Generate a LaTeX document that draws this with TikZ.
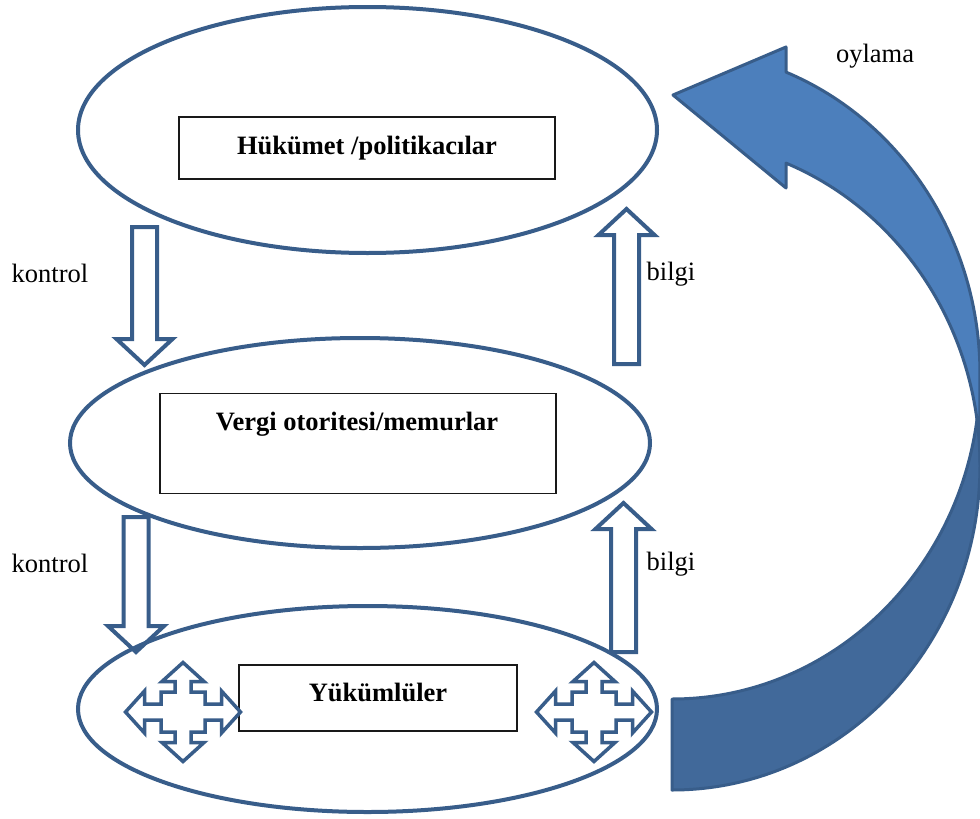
\documentclass[tikz,border=0pt]{standalone}
\usepackage{fontspec}
\setmainfont{Liberation Serif}
\usetikzlibrary{shapes.geometric,calc}

\definecolor{lineblue}{RGB}{56,93,138}
\definecolor{frontblue}{RGB}{76,127,188}
\definecolor{backblue}{RGB}{65,105,154}

% hollow block arrow: name, x, tail y, tip y
\newcommand{\hollowarrow}[4]{%
  \pgfmathsetmacro\hbase{#4-26*sign(#4-#3)}%
  \coordinate (#1-tail) at (#2,#3);
  \coordinate (#1-tip) at (#2,#4);
  \draw[blockarrow] ({#2-12.5},#3) -- ({#2+12.5},#3) -- ({#2+12.5},\hbase)
    -- ({#2+28},\hbase) -- (#1-tip) -- ({#2-28},\hbase) -- ({#2-12.5},\hbase) -- cycle;
}

\begin{document}
\begin{tikzpicture}[x=1pt,y=-1pt,
  oval/.style={ellipse, draw=lineblue, line width=4pt, inner sep=0pt},
  labelbox/.style={rectangle, draw=black!90, line width=1.2pt, fill=white, inner sep=0pt},
  boxtext/.style={font=\bfseries\fontsize{26.5}{30}\selectfont, inner sep=0pt, anchor=base},
  plaintext/.style={font=\fontsize{26.5}{30}\selectfont, inner sep=0pt, anchor=base},
  blockarrow/.style={draw=lineblue, line width=4pt, fill=white, line join=miter},
  quadline/.style={draw=lineblue, line width=3.5pt, line join=miter},
  frontband/.style={draw=lineblue, line width=3pt, fill=frontblue, line join=round},
  backband/.style={draw=lineblue, line width=3pt, fill=backblue, line join=round},
  quadarrow/.pic={
    \draw[quadline] (-57.5,0) -- (-38.5,-21) -- (-38.5,-8) -- (-22,-8) -- (-22,-20)
      -- (-8,-20) -- (-8,-30.5) -- (-21,-30.5) -- (0,-49.5)
      -- (21,-30.5) -- (8,-30.5) -- (8,-20) -- (22,-20) -- (22,-8)
      -- (38.5,-8) -- (38.5,-21) -- (57.5,0)
      -- (38.5,21) -- (38.5,8) -- (22,8) -- (22,20) -- (8,20)
      -- (8,30.5) -- (21,30.5) -- (0,49.5)
      -- (-21,30.5) -- (-8,30.5) -- (-8,20) -- (-22,20) -- (-22,8)
      -- (-38.5,8) -- (-38.5,21) -- cycle;
  }]

\useasboundingbox (0,0) rectangle (980,819);
\fill[white] (0,0) rectangle (980,819);

% block arrows between the levels
\hollowarrow{ctrlA}{144.5}{227}{365}
\hollowarrow{infoA}{626.5}{364}{209}
\hollowarrow{ctrlB}{136}{517}{652}
\hollowarrow{infoB}{623.5}{652}{503}

% the three levels
\node[oval, minimum width=579pt, minimum height=246pt] (gov) at (367.5,130) {};
\node[oval, minimum width=580pt, minimum height=210pt] (tax) at (360,443) {};
\node[oval, minimum width=579pt, minimum height=206pt] (payer) at (367.5,709) {};

\node[labelbox, minimum width=376pt, minimum height=62pt] (govbox) at (367,148) {};
\node[boxtext] (govtext) at (367,154) {Hükümet /politikacılar};

\node[labelbox, minimum width=396pt, minimum height=100pt] (taxbox) at (358,443.5) {};
\node[boxtext] (taxtext) at (357,430) {Vergi otoritesi/memurlar};

\node[labelbox, minimum width=278pt, minimum height=66pt] (payerbox) at (378,698) {};
\node[boxtext] (payertext) at (378,701) {Yükümlüler};

% four-way arrows among taxpayers
\pic (quadL) at (183,712) {quadarrow};
\pic (quadR) at (594,712) {quadarrow};

% side labels
\node[plaintext] (ctrlAlabel) at (50,282) {kontrol};
\node[plaintext] (ctrlBlabel) at (50,572) {kontrol};
\node[plaintext] (infoAlabel) at (671,280) {bilgi};
\node[plaintext] (infoBlabel) at (671,570) {bilgi};
\node[plaintext] (votelabel) at (875,62) {oylama};

% curved voting arrow: back band (tail) first, then front band with head
\coordinate (backc) at (672,465);
\coordinate (frontc) at (672,374);
\draw[backband] (672,790) arc[start angle=90, end angle=0, x radius=308, y radius=325]
  -- (980,374) arc[start angle=0, end angle=90, x radius=308, y radius=325] -- cycle;
\draw[frontband] (673,95) -- (786,47) -- (786,72.1)
  arc[start angle=-68.27, end angle=0, x radius=308, y radius=325]
  -- (980,465) arc[start angle=0, end angle=-68.27, x radius=308, y radius=325]
  -- (786,188) -- cycle;

\end{tikzpicture}
\end{document}
